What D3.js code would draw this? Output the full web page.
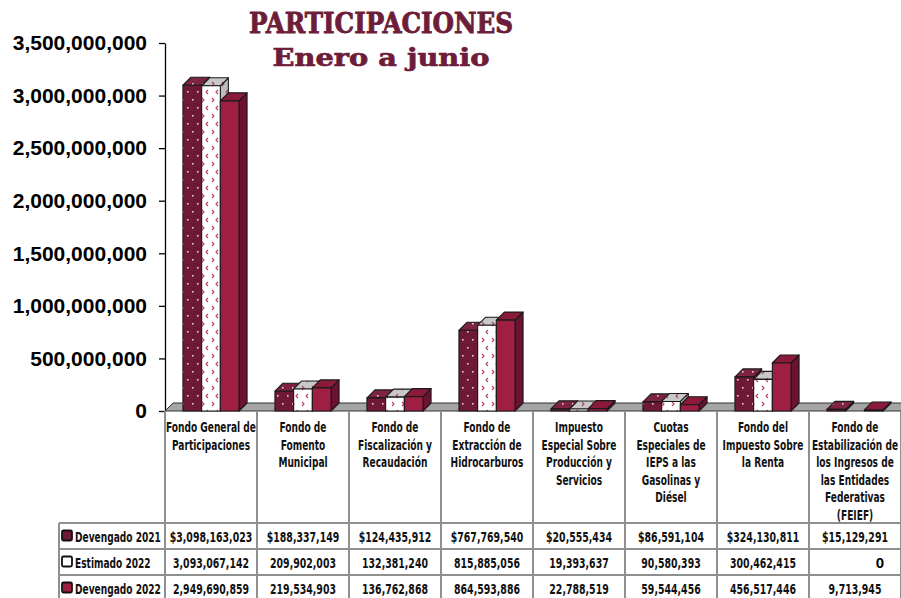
<!DOCTYPE html>
<html><head><meta charset="utf-8">
<script src="https://cdn.jsdelivr.net/npm/d3@7"></script>
<style>
html,body{margin:0;padding:0;background:#fff;}
svg{display:block;}
</style></head>
<body>
<script>
const categories = [
  "Fondo General de\nParticipaciones",
  "Fondo de\nFomento\nMunicipal",
  "Fondo de\nFiscalización y\nRecaudación",
  "Fondo de\nExtracción de\nHidrocarburos",
  "Impuesto\nEspecial Sobre\nProducción  y\nServicios",
  "Cuotas\nEspeciales de\nIEPS a las\nGasolinas y\nDiésel",
  "Fondo del\nImpuesto Sobre\nla Renta",
  "Fondo de\nEstabilización de\nlos Ingresos de\nlas Entidades\nFederativas\n(FEIEF)"
];
const seriesNames = ["Devengado 2021", "Estimado 2022", "Devengado 2022"];
const devengado2021 = [3098163023, 188337149, 124435912, 767769540, 20555434, 86591104, 324130811, 15129291];
const estimado2022  = [3093067142, 209902003, 132381240, 815885056, 19393637, 90580393, 300462415, 0];
const devengado2022 = [2949690859, 219534903, 136762868, 864593886, 22788519, 59544456, 456517446, 9713945];
const tableRow2021 = ["$3,098,163,023","$188,337,149","$124,435,912","$767,769,540","$20,555,434","$86,591,104","$324,130,811","$15,129,291"];
const tableRowEst  = ["3,093,067,142","209,902,003","132,381,240","815,885,056","19,393,637","90,580,393","300,462,415","0"];
const tableRow2022 = ["2,949,690,859","219,534,903","136,762,868","864,593,886","22,788,519","59,544,456","456,517,446","9,713,945"];
const yTicks = [0, 500000000, 1000000000, 1500000000, 2000000000, 2500000000, 3000000000, 3500000000];
const title = "PARTICIPACIONES";
const subtitle = "Enero a junio";

const series = [devengado2021, estimado2022, devengado2022];
const tableRows = [tableRow2021, tableRowEst, tableRow2022];

const W = 901, H = 598;
const svg = d3.select("body").append("svg").attr("width", W).attr("height", H);
const defs = svg.append("defs");

function dotPattern(id, bg, dot) {
  const p = defs.append("pattern").attr("id", id).attr("patternUnits","userSpaceOnUse")
    .attr("width", 10).attr("height", 16);
  p.append("rect").attr("width",10).attr("height",16).attr("fill",bg);
  p.append("rect").attr("x",2).attr("y",3).attr("width",1.6).attr("height",1.6).attr("fill",dot);
  p.append("rect").attr("x",7).attr("y",11).attr("width",1.6).attr("height",1.6).attr("fill",dot);
}
function chevPattern(id, bg, col) {
  const p = defs.append("pattern").attr("id", id).attr("patternUnits","userSpaceOnUse")
    .attr("width", 10).attr("height", 16);
  p.append("rect").attr("width",10).attr("height",16).attr("fill",bg);
  p.append("path").attr("d","M2,2 L4,4 L2,6").attr("fill","none").attr("stroke",col).attr("stroke-width",1.1);
  p.append("path").attr("d","M8,10 L6,12 L8,14").attr("fill","none").attr("stroke",col).attr("stroke-width",1.1);
}
dotPattern("p0front", "#6e1a37", "#e8c8d2");
dotPattern("p0top", "#7d2442", "#e8c8d2");
dotPattern("p0side", "#56122a", "#c9a0ad");
chevPattern("p1front", "#ffffff", "#b5425f");
chevPattern("p1top", "#c8c8c8", "#9a4a60");
chevPattern("p1side", "#bdbdbd", "#9a4a60");

const faces = [
  {front:"url(#p0front)", top:"url(#p0top)", side:"url(#p0side)"},
  {front:"url(#p1front)", top:"url(#p1top)", side:"url(#p1side)"},
  {front:"#9e1f41", top:"#8a1a3a", side:"#6a1230"}
];

const plotLeft = 165, plotRight = 901;
const x = d3.scaleBand().domain(d3.range(categories.length)).range([plotLeft, plotRight]).padding(0);
const y = d3.scaleLinear().domain([0, 3500000000]).range([411, 43]);
const groupW = x.bandwidth() * 0.61;
const xs = d3.scaleBand().domain(d3.range(series.length))
  .range([(x.bandwidth()-groupW)/2, (x.bandwidth()+groupW)/2]).padding(0);
const DX = 8, DY = -8;

// title
svg.append("text").attr("x", 381).attr("y", 33).attr("text-anchor","middle")
  .attr("font-family","'DejaVu Serif', serif").attr("font-weight","bold").attr("font-size",28)
  .attr("fill","#6d1d39").attr("stroke","#6d1d39").attr("stroke-width",0.9)
  .attr("textLength",264).attr("lengthAdjust","spacingAndGlyphs").text(title);
svg.append("text").attr("x", 381).attr("y", 66).attr("text-anchor","middle")
  .attr("font-family","'DejaVu Serif', serif").attr("font-weight","bold").attr("font-size",24)
  .attr("fill","#6d1d39").attr("stroke","#6d1d39").attr("stroke-width",0.7)
  .attr("textLength",217).attr("lengthAdjust","spacingAndGlyphs").text(subtitle);

// y axis
const yAxis = d3.axisLeft(y).tickValues(yTicks).tickSize(6).tickSizeOuter(0)
  .tickFormat(d3.format(",.0f"));
const ga = svg.append("g").attr("transform", `translate(${plotLeft},0)`).call(yAxis);
ga.select(".domain").attr("stroke","#000").attr("stroke-width",1.3);
ga.selectAll(".tick line").attr("stroke","#000").attr("stroke-width",1.3);
ga.selectAll(".tick text").attr("x",-18).attr("font-family","'Liberation Sans', Arial, sans-serif")
  .attr("font-weight","bold").attr("font-size",21).attr("fill","#000");
svg.append("line").attr("x1",plotLeft).attr("x2",plotLeft).attr("y1",y(0)).attr("y2",y(0)+5)
  .attr("stroke","#000").attr("stroke-width",1.3);

// floor
const y0 = y(0);
svg.append("path")
  .attr("d", `M${plotLeft},${y0} L${plotRight},${y0} L${plotRight+DX},${y0+DY} L${plotLeft+DX},${y0+DY} Z`)
  .attr("fill","#a5a5a5").attr("stroke","#333").attr("stroke-width",1);

// bars
const gb = svg.append("g");
categories.forEach((c, i) => {
  series.forEach((s, j) => {
    const v = s[i];
    if (!v) return;
    const x0 = x(i) + xs(j), x1 = x0 + xs.bandwidth();
    const yt = y(v);
    const f = faces[j];
    const g = gb.append("g").attr("stroke","#1a1a1a").attr("stroke-width",1.1).attr("stroke-linejoin","round");
    g.append("path").attr("d",`M${x1},${y0} L${x1+DX},${y0+DY} L${x1+DX},${yt+DY} L${x1},${yt} Z`).attr("fill",f.side);
    g.append("path").attr("d",`M${x0},${yt} L${x1},${yt} L${x1+DX},${yt+DY} L${x0+DX},${yt+DY} Z`).attr("fill",f.top);
    g.append("rect").attr("x",x0).attr("y",yt).attr("width",x1-x0).attr("height",Math.max(0,y0-yt)).attr("fill",f.front);
  });
});

// table
const tableTop = y0, headerBottom = 523, rowH = 26;
const legendLeft = 59;
const gridCol = "#8f8f8f";
const gt = svg.append("g");
const font = "'DejaVu Sans Condensed', 'DejaVu Sans', sans-serif";
const SX = 0.72;

function condensedText(parent, cx, cy, lines, size, anchor) {
  const g = parent.append("g").attr("transform", `translate(${cx},${cy}) scale(${SX},1)`);
  const t = g.append("text").attr("text-anchor", anchor || "middle")
    .attr("font-family", font).attr("font-weight","bold").attr("font-size",size).attr("fill","#111");
  lines.forEach((ln, k) => t.append("tspan").attr("x",0).attr("y", k*17.6).text(ln));
  return t;
}

categories.forEach((c, i) => {
  condensedText(gt, x(i) + x.bandwidth()/2, 432, c.split("\n"), 14);
});
tableRows.forEach((row, r) => {
  const cy = headerBottom + r*rowH + rowH/2 + 5.5;
  row.forEach((val, i) => {
    const isZero = (r===1 && i===7);
    if (isZero) {
      gt.append("text").attr("x", x(i) + x.bandwidth() - 21).attr("y", cy).attr("text-anchor","middle")
        .attr("font-family","'Liberation Sans', Arial, sans-serif").attr("font-weight","bold")
        .attr("font-size",15).attr("fill","#000").text(val);
    } else {
      condensedText(gt, x(i) + x.bandwidth()/2, cy, [val], 14.5);
    }
  });
  const mfill = r===0 ? "#6e1a37" : r===1 ? "#ffffff" : "#9e1f41";
  gt.append("rect").attr("x", 62).attr("y", cy-11).attr("width",10).attr("height",10).attr("rx",1.5)
    .attr("fill", mfill).attr("stroke","#111").attr("stroke-width",1.8);
  condensedText(gt, 75, cy, [seriesNames[r]], 14, "start");
});
const colEdges = d3.range(categories.length + 1).map(i => i < categories.length ? x(i) : plotRight);
colEdges.forEach(cx => {
  gt.append("line").attr("x1",cx).attr("x2",cx).attr("y1",tableTop).attr("y2",H)
    .attr("stroke",gridCol).attr("stroke-width",2);
});
gt.append("line").attr("x1",legendLeft).attr("x2",legendLeft).attr("y1",headerBottom).attr("y2",H)
  .attr("stroke",gridCol).attr("stroke-width",2);
[0,1,2,3].forEach(r => {
  const yy = headerBottom + r*rowH;
  gt.append("line").attr("x1", legendLeft).attr("x2", plotRight).attr("y1", yy).attr("y2", yy)
    .attr("stroke",gridCol).attr("stroke-width",2);
});
</script>
</body></html>
